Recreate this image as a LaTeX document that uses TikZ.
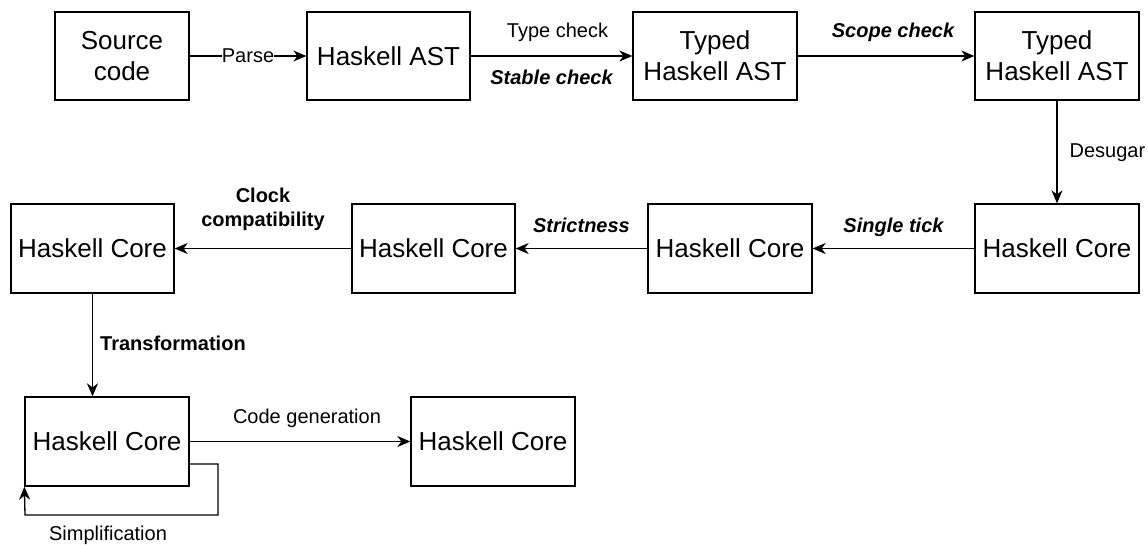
\documentclass[tikz,border=0pt]{standalone}
\usepackage{fontspec}
\setmainfont{Liberation Sans}
\usetikzlibrary{arrows.meta}
\tikzset{
  box/.style={draw, line width=1.3pt, rectangle, inner sep=0pt, minimum height=88pt,
    align=center, font=\fontsize{26}{31}\selectfont},
  lbl/.style={font=\fontsize{20}{24}\selectfont, inner sep=1pt, align=center},
  blbl/.style={lbl, font=\fontsize{20}{24}\selectfont\bfseries},
  bilbl/.style={lbl, font=\fontsize{20}{24}\selectfont\bfseries\itshape},
  arr/.style={draw, line width=1.3pt, -{Stealth[length=13pt,width=11pt,inset=4pt]}}
}
\begin{document}
\begin{tikzpicture}[x=1pt,y=-1pt]
\useasboundingbox (0,0) rectangle (1148,544);
% row 1
\node[box, minimum width=134pt] (src) at (122,56) {Source\\code};
\node[box, minimum width=163pt] (ast) at (388.5,56) {Haskell AST};
\node[box, minimum width=164pt] (ty1) at (715,56) {Typed\\Haskell AST};
\node[box, minimum width=164pt] (ty2) at (1057,56) {Typed\\Haskell AST};
% row 2
\node[box, minimum width=164pt, minimum height=89pt] (d) at (1057,248.5) {Haskell Core};
\node[box, minimum width=164pt, minimum height=89pt] (c) at (730,248.5) {Haskell Core};
\node[box, minimum width=163pt, minimum height=89pt] (b) at (433.5,248.5) {Haskell Core};
\node[box, minimum width=163pt, minimum height=89pt] (a) at (92.5,248.5) {Haskell Core};
% row 3
\node[box, minimum width=164pt, minimum height=89pt] (e) at (107,441.5) {Haskell Core};
\node[box, minimum width=164pt, minimum height=89pt] (f) at (493,441.5) {Haskell Core};
% connectors
\draw[arr] (src) -- node[lbl, fill=white, inner sep=0pt] {Parse} (ast);
\draw[arr] (ast) -- node[lbl, midway, xshift=6pt, yshift=24pt] {Type check}
  node[bilbl, midway, yshift=-21pt] {Stable check} (ty1);
\draw[arr] (ty1) -- node[bilbl, midway, xshift=7pt, yshift=24pt] {Scope check} (ty2);
\draw[arr] (ty2) -- node[lbl, midway, anchor=west, xshift=11pt, yshift=-1pt] {Desugar} (d);
\draw[arr] (d) -- node[bilbl, midway, yshift=21pt] {Single tick} (c);
\draw[arr] (c) -- node[bilbl, midway, yshift=23pt] {Strictness} (b);
\draw[arr] (b) -- node[blbl, midway, yshift=39pt] {Clock\\compatibility} (a);
\draw[arr] (a.south) -- node[blbl, midway, anchor=west, xshift=6pt, yshift=2pt] {Transformation} (a.south |- e.north);
\draw[arr] (e) -- node[lbl, midway, xshift=7pt, yshift=23pt] {Code generation} (f);
\coordinate (l1) at (218,464);
\coordinate (l2) at (218,515);
\coordinate (l3) at (25,515);
\draw[arr] ([yshift=-22.5pt]e.east) -- (l1) -- (l2) -- (l3) -- (e.south west);
\node[lbl] (simp) at (108,535) {Simplification};
\end{tikzpicture}
\end{document}
